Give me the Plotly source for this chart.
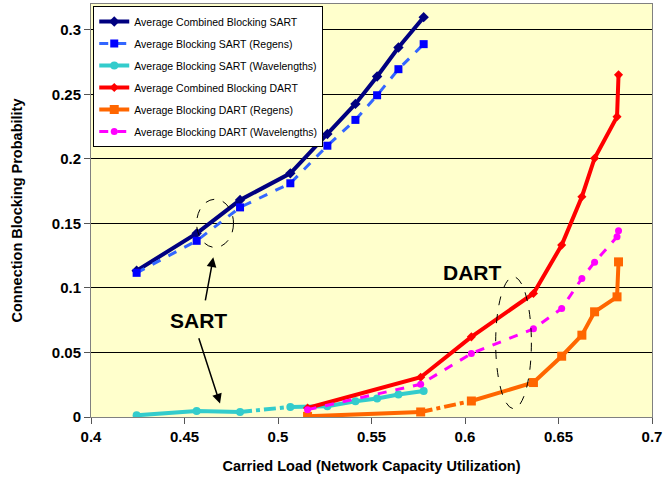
import plotly.graph_objects as go

# Carried load values (x) and blocking probabilities (y)
sart_load = [0.4244, 0.4565, 0.4797, 0.5066, 0.5264, 0.5414, 0.5530, 0.5644, 0.5779]
sart_combined = [0.1133, 0.1423, 0.1681, 0.1888, 0.2193, 0.2426, 0.2638, 0.2863, 0.3098]
sart_regens = [0.1117, 0.1365, 0.1624, 0.1811, 0.2102, 0.2302, 0.2493, 0.2695, 0.2889]
sart_wavelengths = [0.0013, 0.0047, 0.0039, 0.0078, 0.0083, 0.0122, 0.0143, 0.0174, 0.0202]

dart_load = [0.5158, 0.5763, 0.6034, 0.6366, 0.6517, 0.6625, 0.6693, 0.6813, 0.6821]
dart_combined = [0.0070, 0.0308, 0.0621, 0.0957, 0.1332, 0.1707, 0.2005, 0.2327, 0.2651]
dart_regens = [0.0005, 0.0039, 0.0124, 0.0267, 0.0471, 0.0634, 0.0815, 0.0931, 0.1202]
dart_wavelengths = [0.0057, 0.0254, 0.0492, 0.0683, 0.0841, 0.1074, 0.1200, 0.1396, 0.1443]

y_ticks = [0, 0.05, 0.1, 0.15, 0.2, 0.25, 0.3]
x_ticks = [0.4, 0.45, 0.5, 0.55, 0.6, 0.65, 0.7]


def broken(vals, i):
    # break the line between point i and i+1 (that segment is drawn dash-dot)
    return vals[:i + 1] + [None] + vals[i + 1:]


fig = go.Figure()

fig.add_trace(go.Scatter(x=sart_load, y=sart_combined, mode='lines+markers',
                         name='Average Combined Blocking SART', legendgroup='a',
                         line=dict(color='#000080', width=4),
                         marker=dict(symbol='diamond', size=8, color='#000080')))
fig.add_trace(go.Scatter(x=sart_load, y=sart_regens, mode='lines+markers',
                         name='Average Blocking SART (Regens)', legendgroup='b',
                         line=dict(color='#3366FF', width=3, dash='dash'),
                         marker=dict(symbol='square', size=8, color='#0000FF')))
fig.add_trace(go.Scatter(x=broken(sart_load, 2), y=broken(sart_wavelengths, 2),
                         mode='lines+markers', legendgroup='c',
                         name='Average Blocking SART (Wavelengths)',
                         line=dict(color='#33CCCC', width=4),
                         marker=dict(symbol='circle', size=8, color='#33CCCC')))
fig.add_trace(go.Scatter(x=sart_load[2:4], y=sart_wavelengths[2:4], mode='lines',
                         showlegend=False, legendgroup='c',
                         line=dict(color='#33CCCC', width=4, dash='dashdot')))

fig.add_trace(go.Scatter(x=dart_load, y=dart_combined, mode='lines+markers',
                         name='Average Combined Blocking DART', legendgroup='d',
                         line=dict(color='#FF0000', width=4),
                         marker=dict(symbol='diamond', size=7, color='#FF0000')))
fig.add_trace(go.Scatter(x=broken(dart_load, 1), y=broken(dart_regens, 1),
                         mode='lines+markers', legendgroup='e',
                         name='Average Blocking DART (Regens)',
                         line=dict(color='#FF6600', width=4),
                         marker=dict(symbol='square', size=9, color='#FF6600')))
fig.add_trace(go.Scatter(x=dart_load[1:3], y=dart_regens[1:3], mode='lines',
                         showlegend=False, legendgroup='e',
                         line=dict(color='#FF6600', width=4, dash='dashdot')))
fig.add_trace(go.Scatter(x=dart_load, y=dart_wavelengths, mode='lines+markers',
                         name='Average Blocking DART (Wavelengths)', legendgroup='f',
                         line=dict(color='#FF00FF', width=3, dash='dash'),
                         marker=dict(symbol='circle', size=7, color='#FF00FF')))

# dashed ellipses grouping the curves
fig.add_shape(type='circle', xref='x', yref='y', x0=0.4565, x1=0.4762, y0=0.1314, y1=0.1687,
              line=dict(color='black', width=1, dash='dash'))
fig.add_shape(type='circle', xref='x', yref='y', x0=0.6164, x1=0.6355, y0=0.0065, y1=0.1086,
              line=dict(color='black', width=1, dash='dash'))

lbl_font = dict(family='Liberation Sans, Arial', size=21, color='black')
fig.add_annotation(x=0.4573, y=0.075, text='<b>SART</b>', showarrow=False, font=lbl_font)
fig.add_annotation(x=0.6035, y=0.1123, text='<b>DART</b>', showarrow=False, font=lbl_font)
fig.add_annotation(x=0.4654, y=0.1237, ax=0.4610, ay=0.0892, axref='x', ayref='y',
                   text='', showarrow=True, arrowhead=2, arrowsize=1.3, arrowwidth=1.5,
                   arrowcolor='black')
fig.add_annotation(x=0.4690, y=0.0104, ax=0.4574, ay=0.0621, axref='x', ayref='y',
                   text='', showarrow=True, arrowhead=2, arrowsize=1.3, arrowwidth=1.5,
                   arrowcolor='black')

fig.update_layout(
    width=663, height=491,
    margin=dict(l=91, r=11, t=4, b=74),
    paper_bgcolor='white',
    plot_bgcolor='#FFFFCC',
    font=dict(family='Liberation Sans, Arial', color='black'),
    legend=dict(x=0.004, y=0.995, xanchor='left', yanchor='top',
                bgcolor='white', bordercolor='black', borderwidth=1,
                font=dict(family='Liberation Sans, Arial', size=10.5),
                tracegroupgap=3),
    xaxis=dict(range=[0.4, 0.7], tickvals=x_ticks,
               ticktext=[f'<b>{v:g}</b>' for v in x_ticks],
               showgrid=False, zeroline=False, ticks='outside', ticklen=6, tickcolor='#555',
               showline=True, linecolor='#808080', linewidth=1, mirror=True,
               automargin=False,
               tickfont=dict(size=15, family='Liberation Sans, Arial'),
               title=dict(text='<b>Carried Load (Network Capacity Utilization)</b>',
                          font=dict(size=14.5), standoff=16)),
    yaxis=dict(range=[0, 0.32], tickvals=y_ticks,
               ticktext=[f'<b>{v:g}</b>' for v in y_ticks],
               showgrid=True, gridcolor='black', gridwidth=1, zeroline=False,
               ticks='outside', ticklen=6, tickcolor='#555',
               showline=True, linecolor='#808080', linewidth=1, mirror=True,
               automargin=False,
               tickfont=dict(size=15, family='Liberation Sans, Arial'),
               title=dict(text='<b>Connection Blocking Probability</b>',
                          font=dict(size=14.5), standoff=25)),
)

fig.write_html("out.html", config={'displayModeBar': False},
               post_script="document.body.style.margin='0';")
